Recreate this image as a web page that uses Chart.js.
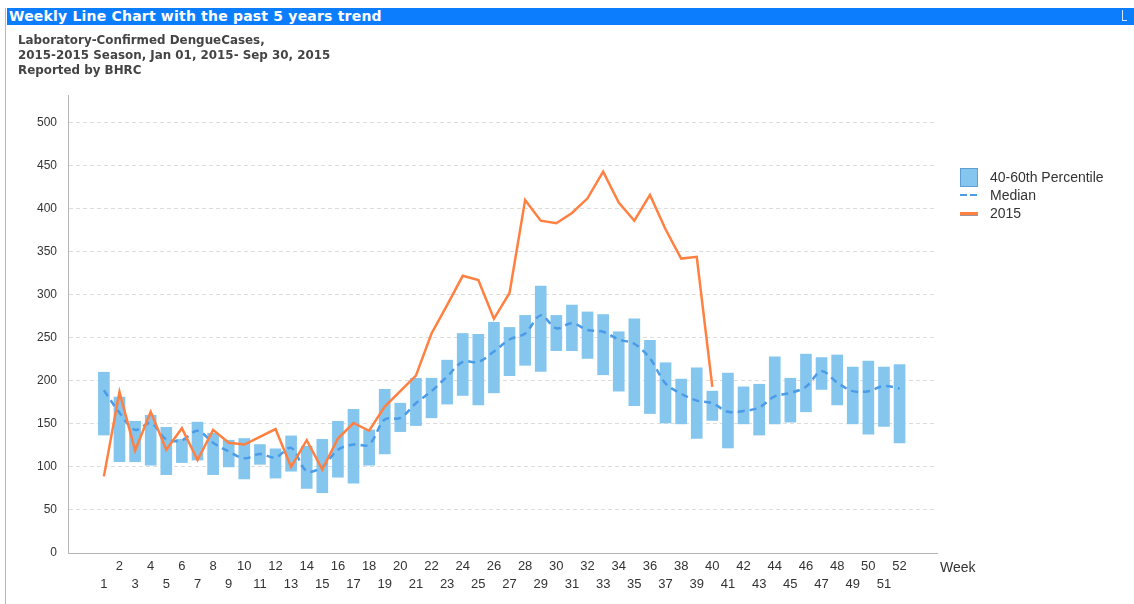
<!DOCTYPE html>
<html lang="en">

<head>
    <meta charset="UTF-8">
    <meta name="viewport" content="width=device-width, initial-scale=1.0">
    <script src="https://cdn.jsdelivr.net/npm/chart.js@4.4.0/dist/chart.umd.min.js"></script>
    <title>Weekly Line Chart</title>
    <style>
        body { margin: 0; width: 1134px; height: 604px; overflow: hidden; background: #fff; font-family: 'Liberation Sans', Arial, sans-serif; }
        #frame { position: absolute; left: 5px; top: 8px; width: 0; height: 596px; border-left: 1px solid #b8b8b8; }
        #titlebar { position: absolute; left: 7px; top: 8px; width: 1125px; height: 17px; padding-left: 2px; background: #0b7dfd; color: #fff; font: bold 14px 'DejaVu Sans', sans-serif; letter-spacing: 0.2px; line-height: 17px; }
        #corner { position: absolute; left: 1122px; top: 10px; width: 4px; height: 10px; border-left: 1px solid #d6e8ff; border-bottom: 1px solid #d6e8ff; }
        #subtitle { position: absolute; left: 18px; top: 33px; color: #444; font: bold 11.9px 'DejaVu Sans', sans-serif; line-height: 15px; }
        #chartBox { position: absolute; left: 0; top: 0; width: 1134px; height: 604px; }
        .lg { position: absolute; color: #333; font-size: 14px; line-height: 16px; }
        #weekLabel { position: absolute; left: 940px; top: 559px; color: #333; font-size: 14px; }
    </style>
</head>

<body>
    <div id="chartBox"><canvas id="myChart"></canvas></div>
    <div id="frame"></div>
    <div id="titlebar">Weekly Line Chart with the past 5 years trend</div>
    <div id="corner"></div>
    <div id="subtitle">Laboratory-Confirmed DengueCases,<br>2015-2015 Season, Jan 01, 2015- Sep 30, 2015<br>Reported by BHRC</div>

    <div style="position:absolute;left:960px;top:168px;width:16px;height:17px;background:#85c6ef;border:1px solid #5b9fd4;"></div>
    <div class="lg" style="left:990px;top:169px;">40-60th Percentile</div>
    <div style="position:absolute;left:960px;top:194px;width:7px;height:2px;background:#4b9be9;"></div>
    <div style="position:absolute;left:970px;top:194px;width:7px;height:2px;background:#4b9be9;"></div>
    <div class="lg" style="left:990px;top:187px;">Median</div>
    <div style="position:absolute;left:960px;top:212px;width:18px;height:3px;background:#ff8040;box-shadow:0 1px 0 #999;"></div>
    <div class="lg" style="left:990px;top:205px;">2015</div>

    <div id="weekLabel">Week</div>
</body>

<script type='text/javascript'>

    const weeks = [1, 2, 3, 4, 5, 6, 7, 8, 9, 10, 11, 12, 13, 14, 15, 16, 17, 18, 19, 20, 21, 22, 23, 24, 25, 26,
        27, 28, 29, 30, 31, 32, 33, 34, 35, 36, 37, 38, 39, 40, 41, 42, 43, 44, 45, 46, 47, 48, 49, 50, 51, 52]

    // 40th and 60th percentile of the past 5 years
    const p40 = [137, 106, 106, 102, 91, 105, 108, 91, 100, 86, 103, 87, 95, 75, 70, 88, 81, 102, 115, 141, 148, 157, 173, 183, 172, 186,
        206, 218, 211, 235, 235, 226, 207, 188, 171, 162, 151, 150, 133, 154, 122, 150, 137, 150, 152, 164, 190, 172, 150, 138, 147, 128]
    const p60 = [210, 181, 153, 160, 146, 132, 152, 139, 131, 133, 126, 121, 136, 124, 132, 153, 167, 143, 190, 174, 203, 203, 224, 255, 254, 268,
        262, 276, 310, 276, 288, 280, 277, 257, 272, 247, 221, 202, 215, 188, 209, 193, 196, 228, 203, 231, 227, 230, 216, 223, 216, 219]

    const median = [189, 163, 143, 151, 132, 131, 142, 128, 118, 110, 115, 111, 122, 95, 100, 120, 126, 126, 155, 157, 174, 188, 205, 222, 222, 234,
        248, 255, 276, 261, 267, 259, 257, 248, 243, 226, 197, 185, 177, 174, 164, 165, 169, 182, 186, 193, 211, 198, 188, 188, 194, 191]

    // 2015 season, weeks 1-40
    const cases2015 = [89, 187, 119, 164, 120, 145, 108, 143, 128, 126, 135, 144, 100, 131, 97, 133, 151, 142, 170, 188,
        206, 255, 288, 322, 317, 272, 302, 410, 386, 383, 395, 412, 443, 407, 386, 416, 376, 342, 344, 193]

    const yTicks = [0, 50, 100, 150, 200, 250, 300, 350, 400, 450, 500]

    makeChart = () => {
        var ctx = document.getElementById('myChart').getContext('2d');
        var chart = new Chart(ctx, {
            type: 'bar',
            data: {
                datasets: [{
                    type: 'line',
                    label: '2015',
                    data: cases2015.map((v, i) => ({ x: weeks[i], y: v })),
                    borderColor: '#ff8040',
                    borderWidth: 2.5,
                    pointRadius: 0,
                    tension: 0,
                    order: 1
                }, {
                    type: 'line',
                    label: 'Median',
                    data: median.map((v, i) => ({ x: weeks[i], y: v })),
                    borderColor: '#4b9be9',
                    borderWidth: 2.5,
                    borderDash: [7, 5],
                    pointRadius: 0,
                    tension: 0.35,
                    order: 2
                }, {
                    type: 'bar',
                    label: '40-60th Percentile',
                    data: weeks.map((w, i) => ({ x: w, y: [p40[i], p60[i]] })),
                    backgroundColor: '#85c6ef',
                    barThickness: 11,
                    order: 3
                }]
            },
            options: {
                responsive: true,
                maintainAspectRatio: false,
                animation: false,
                layout: { padding: { left: 8, right: 197, top: 95, bottom: 0 } },
                plugins: { legend: { display: false }, tooltip: { enabled: false } },
                scales: {
                    x: {
                        type: 'linear',
                        offset: false,
                        min: -1.3,
                        max: 54.4,
                        afterBuildTicks: s => { s.ticks = weeks.map(w => ({ value: w })) },
                        afterFit: s => { s.height = 51 },
                        grid: { display: false, drawTicks: false },
                        border: { display: true, color: '#b4b4b4' },
                        ticks: {
                            autoSkip: false,
                            maxRotation: 0,
                            padding: 4,
                            color: '#333',
                            font: { family: "'Liberation Sans Narrow', 'Liberation Sans', Arial", size: 13, lineHeight: 1.4 },
                            callback: v => v % 2 === 0 ? [String(v), ''] : ['', String(v)]
                        }
                    },
                    y: {
                        min: 0,
                        max: 532,
                        afterBuildTicks: s => { s.ticks = yTicks.map(v => ({ value: v })) },
                        afterFit: s => { s.width = 60 },
                        grid: { color: '#dcdcdc', drawTicks: false },
                        border: { display: true, color: '#b4b4b4', dash: [4, 3] },
                        ticks: {
                            padding: 11,
                            color: '#333',
                            font: { family: "'Liberation Sans', Arial", size: 12 }
                        }
                    }
                }
            }
        });
    }

    makeChart()

</script>

</html>
